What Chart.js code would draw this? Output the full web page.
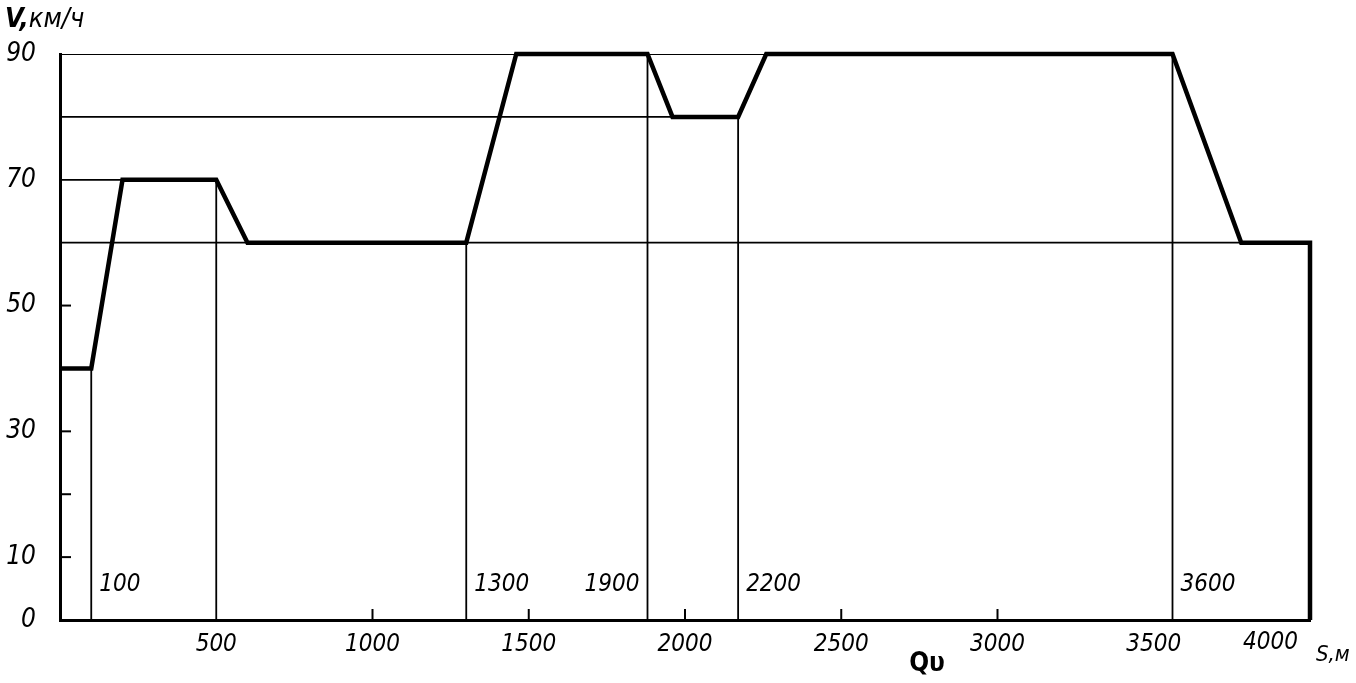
<!DOCTYPE html>
<html>
<head>
<meta charset="utf-8">
<script src="https://cdn.jsdelivr.net/npm/chart.js@4.4.1/dist/chart.umd.min.js"></script>
<style>
  body { margin: 0; background: #fff; }
  #wrap { width: 1356px; height: 683px; }
</style>
</head>
<body>
<div id="wrap"><canvas id="chart"></canvas></div>
<script>
// speed profile (thick line): distance S, m / speed V, km/h
const speedS = [0, 100, 200, 500, 600, 1300, 1460, 1880, 1960, 2170, 2260, 3560, 3780, 4000, 4000];
const speedV = [40, 40, 70, 70, 60, 60, 90, 90, 80, 80, 90, 90, 60, 60, 0];

// thin horizontal guide lines: level and where they end
const levelV = [90, 80, 70, 60];
const levelEnd = [3560, 1960, 200, 4000];

// thin vertical lines from the curve down to the axis
const markS = [100, 500, 1300, 1880, 2170, 3560];
const markTop = [40, 70, 60, 90, 80, 90];
const markText = ['100', '', '1300', '1900', '2200', '3600'];
const markAlign = ['left', 'left', 'left', 'right', 'left', 'left'];

// axis labels (the last x label sits left of the axis end, drawn by the plugin)
const xTickLabels = [500, 1000, 1500, 2000, 2500, 3000, 3500];
const xLastLabel = 4000;
const yTickLabels = [0, 10, 30, 50, 70, 90];
const xInnerTicks = [1000, 1500, 2000, 2500, 3000];
const yInnerTicks = [10, 20, 30, 50];

const FONT = "'DejaVu Sans Condensed', 'Liberation Sans Narrow', sans-serif";

const thin = (pts) => ({
    data: pts, borderColor: '#000', borderWidth: 1.8,
    pointRadius: 0, tension: 0, fill: false
});

const datasets = [];
levelV.forEach((v, i) => {
    datasets.push(thin([{ x: 0, y: v }, { x: levelEnd[i], y: v }]));
});
markS.forEach((s, i) => {
    datasets.push(thin([{ x: s, y: markTop[i] }, { x: s, y: 0 }]));
});
datasets.push({
    data: speedS.map((s, i) => ({ x: s, y: speedV[i] })),
    borderColor: '#000', borderWidth: 4.5, borderJoinStyle: 'miter',
    pointRadius: 0, tension: 0, fill: false, clip: false
});

// extra drawing: inner ticks, annotations, axis titles
const extras = {
    id: 'extras',
    afterDatasetsDraw(chart) {
        const ctx = chart.ctx;
        const x = chart.scales.x, y = chart.scales.y;
        ctx.save();
        ctx.strokeStyle = '#000';
        ctx.lineWidth = 2;
        xInnerTicks.forEach(v => {
            const px = x.getPixelForValue(v);
            ctx.beginPath();
            ctx.moveTo(px, y.bottom);
            ctx.lineTo(px, y.bottom - 11);
            ctx.stroke();
        });
        yInnerTicks.forEach(v => {
            const py = y.getPixelForValue(v);
            ctx.beginPath();
            ctx.moveTo(x.left, py);
            ctx.lineTo(x.left + 11, py);
            ctx.stroke();
        });

        ctx.fillStyle = '#000';
        ctx.textBaseline = 'middle';
        ctx.font = 'italic 24px ' + FONT;
        markText.forEach((t, i) => {
            if (!t) return;
            const px = x.getPixelForValue(markS[i]);
            const py = y.getPixelForValue(5.6);
            ctx.textAlign = markAlign[i];
            ctx.fillText(t, px + (markAlign[i] === 'left' ? 8 : -8), py);
        });

        // last x label, right-aligned just before the axis end
        ctx.textAlign = 'right';
        ctx.fillText(String(xLastLabel), x.getPixelForValue(xLastLabel) - 12, 643);

        ctx.textAlign = 'left';
        ctx.font = 'italic bold 27px ' + FONT;
        ctx.fillText('V,', 5, 20);
        const w = ctx.measureText('V,').width;
        ctx.font = 'italic 27px ' + FONT;
        ctx.fillText('км/ч', 5 + w, 20);
        ctx.font = 'italic 22px ' + FONT;
        ctx.fillText('S,м', x.right + 6, 655);
        ctx.font = 'bold 26px ' + FONT;
        ctx.textAlign = 'center';
        ctx.fillText('Qυ', 927, 664);
        ctx.restore();
    }
};

new Chart(document.getElementById('chart'), {
    type: 'line',
    data: { datasets: datasets },
    options: {
        responsive: true,
        maintainAspectRatio: false,
        animation: false,
        layout: { padding: { top: 54, right: 46, left: 0, bottom: 0 } },
        plugins: { legend: { display: false }, tooltip: { enabled: false } },
        scales: {
            x: {
                type: 'linear', min: 0, max: 4000,
                afterFit: s => { s.height = 63; },
                grid: { display: false, drawTicks: false },
                border: { display: true, color: '#000', width: 3 },
                ticks: {
                    stepSize: 500, padding: 10, color: '#000', maxRotation: 0,
                    autoSkip: false,
                    font: { family: FONT, size: 24, style: 'italic' },
                    callback: v => xTickLabels.includes(v) ? String(v) : ''
                }
            },
            y: {
                min: 0, max: 90,
                afterFit: s => { s.width = 60; },
                grid: { display: false, drawTicks: false },
                border: { display: true, color: '#000', width: 3 },
                ticks: {
                    stepSize: 10, padding: 24, color: '#000', autoSkip: false,
                    font: { family: FONT, size: 26, style: 'italic' },
                    callback: v => yTickLabels.includes(v) ? String(v) : ''
                }
            }
        }
    },
    plugins: [extras]
});
</script>
</body>
</html>
